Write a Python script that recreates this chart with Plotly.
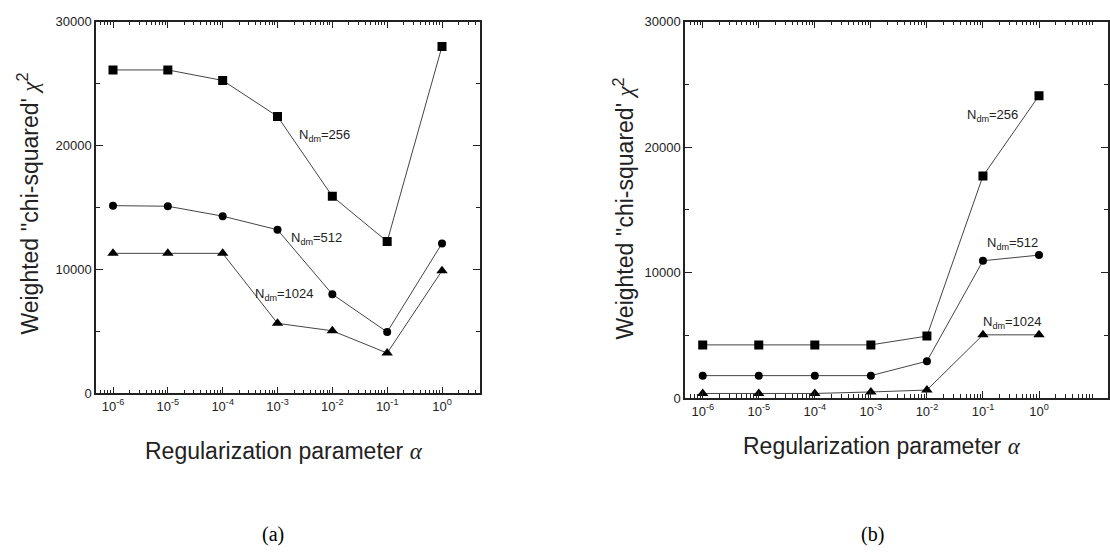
import plotly.graph_objects as go

alpha = [1e-6, 1e-5, 1e-4, 1e-3, 1e-2, 1e-1, 1e0]
tick_vals = [1e-6, 1e-5, 1e-4, 1e-3, 1e-2, 1e-1, 1e0]
tick_text = ["10<sup>-6</sup>", "10<sup>-5</sup>", "10<sup>-4</sup>", "10<sup>-3</sup>",
             "10<sup>-2</sup>", "10<sup>-1</sup>", "10<sup>0</sup>"]
y_ticks = [0, 10000, 20000, 30000]
y_text = ["0", "10000", "20000", "30000"]

# Panel (a)
a_256 = [26100, 26100, 25250, 22350, 15900, 12250, 28000]
a_512 = [15150, 15100, 14300, 13200, 8000, 4950, 12100]
a_1024 = [11300, 11300, 11300, 5650, 5050, 3250, 9900]

# Panel (b)
b_256 = [4250, 4250, 4250, 4250, 4950, 17700, 24100]
b_512 = [1800, 1800, 1800, 1800, 2950, 10950, 11400]
b_1024 = [380, 380, 380, 500, 650, 5050, 5050]

labels = ["N<sub>dm</sub>=256", "N<sub>dm</sub>=512", "N<sub>dm</sub>=1024"]
symbols = ["square", "circle", "triangle-up"]
sizes = [9, 8, 10]

minor_vals = [m * 10.0 ** e for e in range(-7, 2) for m in range(2, 10)]

fig = go.Figure()
line_col = "#444444"
for series, sym, sz in zip([a_256, a_512, a_1024], symbols, sizes):
    fig.add_trace(go.Scatter(x=alpha, y=series, mode="lines+markers", xaxis="x", yaxis="y",
                             line=dict(color=line_col, width=1),
                             marker=dict(symbol=sym, size=sz, color="black"), showlegend=False))
for series, sym, sz in zip([b_256, b_512, b_1024], symbols, sizes):
    fig.add_trace(go.Scatter(x=alpha, y=series, mode="lines+markers", xaxis="x2", yaxis="y2",
                             line=dict(color=line_col, width=1),
                             marker=dict(symbol=sym, size=sz, color="black"), showlegend=False))

tickfont = dict(family="Liberation Sans Narrow, Liberation Sans, Arial", size=13, color="#222")
def xaxis(dom, rng, anchor):
    return dict(domain=dom, type="log", range=rng, anchor=anchor,
                tickvals=tick_vals, ticktext=tick_text, ticks="inside", ticklen=7,
                tickcolor="#222", tickwidth=1.2, showline=True, linecolor="#222", linewidth=1.5,
                mirror="ticks", showgrid=False, zeroline=False, tickfont=tickfont,
                minor=dict(ticks="inside", ticklen=4, tickvals=minor_vals, tickcolor="#222",
                           tickwidth=1, showgrid=False))
def yaxis(dom, anchor):
    return dict(domain=dom, range=[0, 30000], anchor=anchor, tickvals=y_ticks, ticktext=y_text,
                ticks="inside", ticklen=7, tickcolor="#222", showline=True, linecolor="#222",
                linewidth=1.5, mirror="ticks", showgrid=False, zeroline=False, tickfont=tickfont,
                minor=dict(ticks="inside", ticklen=4, dtick=5000, tickcolor="#222", showgrid=False))

fig.update_layout(
    width=1110, height=560, margin=dict(l=0, r=0, t=0, b=0),
    plot_bgcolor="white", paper_bgcolor="white",
    xaxis=xaxis([96/1110, 480/1110], [-6.31, 0.693], "y"),
    yaxis=yaxis([1-397/560, 1-15/560], "x"),
    xaxis2=xaxis([685/1110, 1108/1110], [-6.316, 1.231], "y2"),
    yaxis2=yaxis([1-402/560, 1-15/560], "x2"),
)

title_font = dict(family="Liberation Sans, Arial", size=23, color="#222")
lab_font = dict(family="Liberation Sans Narrow, Liberation Sans, Arial", size=13, color="#222")
ann = []
def pa(x, y, text, font, angle=0):
    ann.append(dict(x=x/1110, y=1-y/560, xref="paper", yref="paper", text=text, showarrow=False,
                    font=font, textangle=angle, xanchor="center", yanchor="middle"))

chi = "<span style='font-family:Liberation Serif'><i>χ</i></span>"
alp = "<span style='font-family:Liberation Serif'><i>α</i></span>"
pa(284, 456, "Regularization parameter " + alp, title_font)
pa(882, 451, "Regularization parameter " + alp, title_font)
pa(28, 202, "Weighted ''chi-squared' " + chi + "<sup>2</sup>", title_font, -90)
pa(624, 207, "Weighted ''chi-squared' " + chi + "<sup>2</sup>", title_font, -90)
cap_font = dict(family="Liberation Serif, Times New Roman", size=20, color="black")
pa(273, 542, "(a)", cap_font)
pa(872, 542, "(b)", cap_font)

# series labels
pa(324, 132, labels[0], lab_font)
pa(316, 238, labels[1], lab_font)
pa(284, 295, labels[2], lab_font)
pa(992, 112, labels[0], lab_font)
pa(1012, 243, labels[1], lab_font)
pa(1012, 324, labels[2], lab_font)
fig.update_layout(annotations=ann)

fig.write_html("out.html")
